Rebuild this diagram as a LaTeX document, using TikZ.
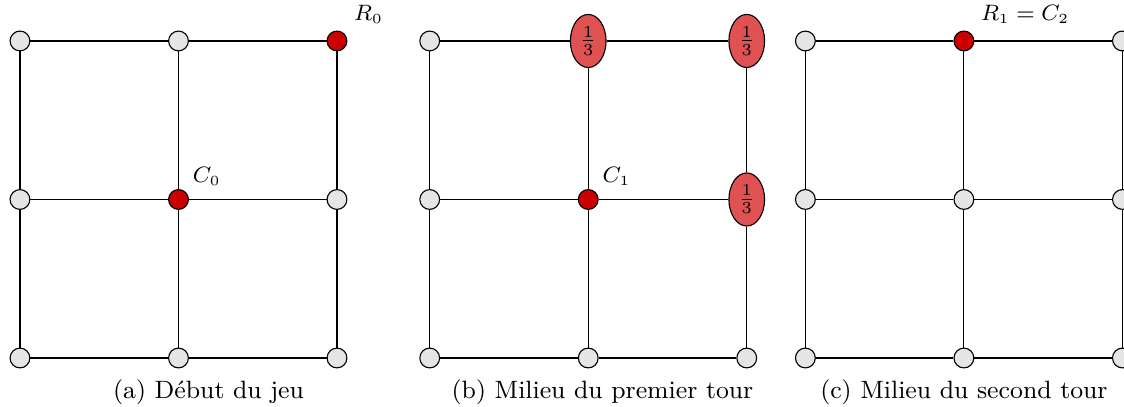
\documentclass[tikz,border=0pt]{standalone}
\usepackage{amsmath,amssymb}
\usepackage{tikz}
\usetikzlibrary{shapes,arrows,positioning,calc}
\definecolor{rouge}{RGB}{204,0,0}
\definecolor{rougeclair}{RGB}{224,82,82}

\begin{document}
\begin{tikzpicture}[
	sommet/.style={circle, draw, fill=gray!20, minimum size=0.25cm, inner sep=0pt},
	jeton/.style={sommet, fill=rouge},
	proba/.style={ellipse, draw, fill=rougeclair, minimum width=0.45cm, minimum height=0.67cm, inner sep=0pt,
		font=\fontsize{8.4}{10}\selectfont, execute at begin node={$\frac{1}{3}$}},
	etiq/.style={font=\fontsize{7.6}{9}\selectfont},
	legende/.style={font=\fontsize{9}{11}\selectfont, anchor=base},
	s-a22/.style={jeton}, s-a11/.style={jeton},
	s-b11/.style={jeton}, s-b12/.style={proba}, s-b22/.style={proba}, s-b21/.style={proba},
	s-c12/.style={jeton}]
										\useasboundingbox (-0.252,-0.606) rectangle (13.93,4.517);
										\foreach \g/\ox in {a/0, b/5.17, c/9.91} {
											\foreach \i in {0,1,2}
												\foreach \j in {0,1,2}
													\node[sommet, s-\g\i\j/.try] (\g\i\j) at (\ox+2*\i, 2*\j) {};
											\foreach \i in {0,1,2} {
												\draw (\g\i0) -- (\g\i1) -- (\g\i2);
												\draw (\g0\i) -- (\g1\i) -- (\g2\i);
											}
										}
										\node[etiq, above right=0pt of a22] (R0) {$R_0$};
										\node[etiq, above right=-1pt and -1pt of a11] (C0) {$C_0$};
										\node[etiq, above right=-1pt and -1pt of b11] (C1) {$C_1$};
										\node[etiq, above right=0pt of c12] (R1) {$R_1 = C_2$};
										\node[legende] (leg-a) at ($(a10)+(0.38,-0.505)$) {(a) Début du jeu};
										\node[legende] (leg-b) at ($(b10)+(0.18,-0.505)$) {(b) Milieu du premier tour};
										\node[legende] (leg-c) at ($(c10)+(0,-0.505)$) {(c) Milieu du second tour};
									\end{tikzpicture}
\end{document}
